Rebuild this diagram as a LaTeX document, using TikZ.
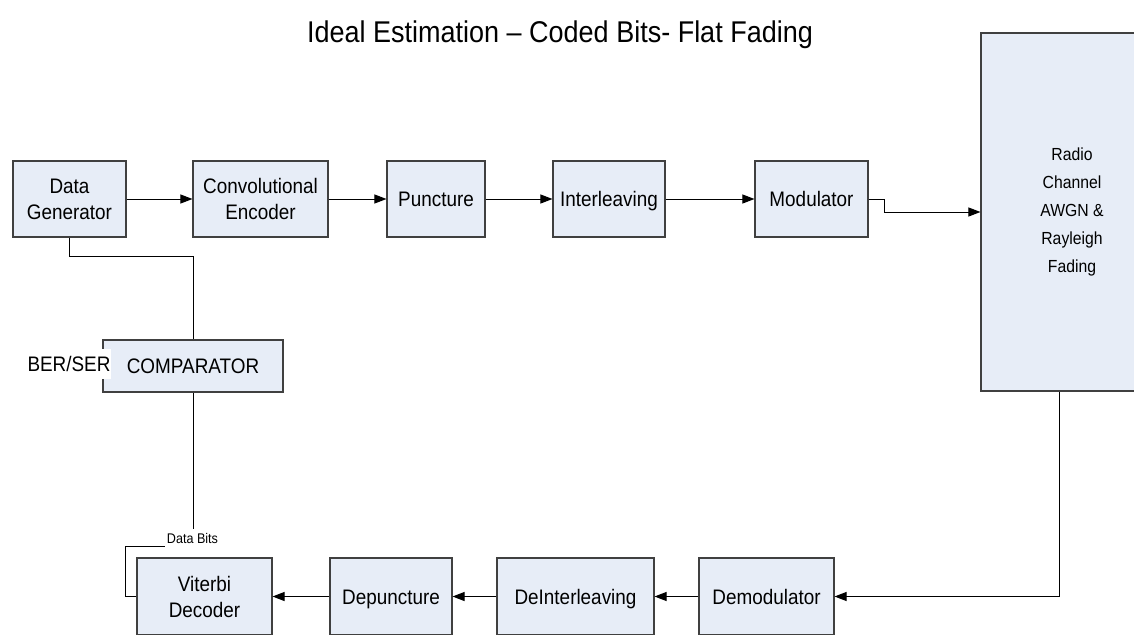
\documentclass[tikz,border=0pt]{standalone}
\usepackage{fontspec}
\setmainfont{Liberation Sans}[FakeStretch=0.9]
\usetikzlibrary{arrows.meta}
\definecolor{boxfill}{HTML}{E7EDF7}
\definecolor{boxline}{HTML}{404040}
\begin{document}
\begin{tikzpicture}[x=1pt,y=-1pt,
  blk/.style={draw=boxline, fill=boxfill, line width=1.1pt, inner sep=0pt,
    align=center, font=\fontsize{21}{26}\selectfont},
  oneline/.style={text height=15pt, text depth=0pt},
  wire/.style={line width=1pt, draw=black},
  arr/.style={wire, -{Triangle[length=12pt,width=9pt]}}]
\clip (0,0) rectangle (1134,634);
\fill[white] (0,0) rectangle (1134,634);

% title
\node[font=\fontsize{30}{34}\selectfont, anchor=base, inner sep=0pt] (title) at (560,42)
  {Ideal Estimation \textendash{} Coded Bits- Flat Fading};

% transmitter chain
\node[blk, minimum width=113, minimum height=76] (gen)   at (69.5,199)  {Data\\Generator};
\node[blk, minimum width=135, minimum height=76] (enc)   at (260.5,199) {Convolutional\\Encoder};
\node[blk, oneline, minimum width=98,  minimum height=76] (punc)  at (436,199)   {Puncture};
\node[blk, oneline, minimum width=112, minimum height=76] (intl)  at (609,199)   {Interleaving};
\node[blk, oneline, minimum width=113, minimum height=76] (mod)   at (811.5,199) {Modulator};

% channel
\node[blk, minimum width=182, minimum height=358, font=\fontsize{17.5}{28}\selectfont]
  (radio) at (1072,212) {Radio\\Channel\\AWGN \&\\Rayleigh\\Fading};

% receiver chain
\node[blk, minimum width=135, minimum height=77] (vit)   at (204.5,596.5) {Viterbi\\Decoder};
\node[blk, oneline, minimum width=122, minimum height=77] (dep)   at (391,596.5)   {Depuncture};
\node[blk, oneline, minimum width=157, minimum height=77] (deint) at (575.5,596.5) {DeInterleaving};
\node[blk, oneline, minimum width=135, minimum height=77] (demod) at (766.5,596.5) {Demodulator};

% error counter
\node[blk, oneline, minimum width=180, minimum height=52] (comp) at (193,366) {COMPARATOR};

% forward path
\draw[arr] (gen) -- (enc);
\draw[arr] (enc) -- (punc);
\draw[arr] (punc) -- (intl);
\draw[arr] (intl) -- (mod);
\draw[arr] (mod.east) -- ++(16,0) |- (radio.west);

% return path
\coordinate (rdrop) at (1059,0);
\draw[arr] (radio.south -| rdrop) |- (demod.east);
\draw[arr] (demod) -- (deint);
\draw[arr] (deint) -- (dep);
\draw[arr] (dep) -- (vit);

% comparison links
\draw[wire] (gen.south) -- ++(0,19) -| (comp.north);
\coordinate (dbk) at (193,546);
\draw[wire] (vit.west) -- ++(-11,0) |- (dbk) -- (comp.south);

\node[fill=white, inner xsep=2pt, inner ysep=0pt, minimum height=19,
  font=\fontsize{14}{16}\selectfont] (dbits) at (192.5,538.5) {Data Bits};
\node[fill=white, inner xsep=1pt, inner ysep=0pt, minimum height=30,
  text height=15pt, text depth=0pt,
  font=\fontsize{21}{24}\selectfont] (berser) at (69,363.5) {BER/SER};
\end{tikzpicture}
\end{document}
